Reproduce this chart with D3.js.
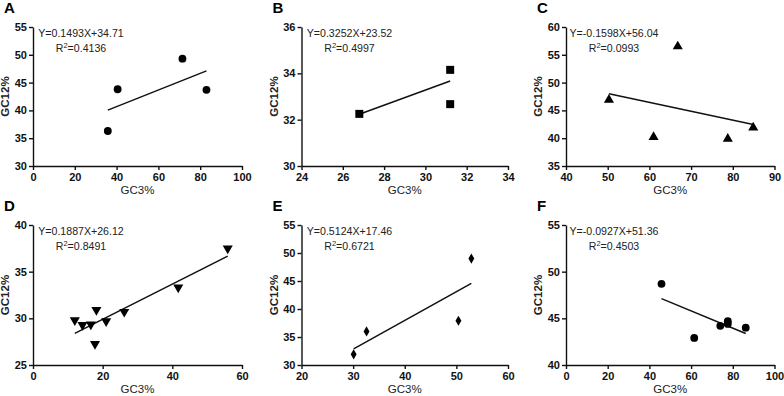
<!doctype html>
<html>
<head>
<meta charset="utf-8">
<script src="https://cdn.jsdelivr.net/npm/d3@7"></script>
<style>
  body { margin: 0; background: #fff; }
  svg { display: block; font-family: "Liberation Sans", Arial, sans-serif; }
  .domain, .tick line { stroke: #111; stroke-width: 1.4px; }
</style>
</head>
<body>
<svg width="784" height="396"></svg>
<script>
// panel labels
var letters = ["A", "B", "C", "D", "E", "F"];

// GC3% (x) and GC12% (y) per panel
var gc3A = [35.8, 40.5, 71.5, 83.0];
var gc12A = [36.3, 43.8, 49.3, 43.7];
var gc3B = [26.8, 31.2, 31.2];
var gc12B = [32.25, 34.15, 32.67];
var gc3C = [50.3, 66.8, 61.0, 78.8, 84.9];
var gc12C = [46.9, 56.5, 40.2, 39.9, 41.9];
var gc3D = [12.0, 14.2, 16.6, 18.2, 17.8, 21.0, 26.2, 41.7, 55.9];
var gc12D = [29.8, 29.3, 29.35, 30.9, 27.25, 29.7, 30.7, 33.3, 37.5];
var gc3E = [30.1, 32.6, 50.4, 52.9];
var gc12E = [31.9, 36.0, 37.9, 49.0];
var gc3F = [45.8, 61.5, 74.0, 77.6, 77.6, 86.2];
var gc12F = [48.7, 42.9, 44.2, 44.7, 44.4, 44.0];

// regression fits as printed
var slopes = [0.1493, 0.3252, -0.1598, 0.1887, 0.5124, -0.0927];
var intercepts = [34.71, 23.52, 56.04, 26.12, 17.46, 51.36];
var equations = ["Y=0.1493X+34.71", "Y=0.3252X+23.52", "Y=-0.1598X+56.04",
                 "Y=0.1887X+26.12", "Y=0.5124X+17.46", "Y=-0.0927X+51.36"];
var r2 = ["0.4136", "0.4997", "0.0993", "0.8491", "0.6721", "0.4503"];

// axis ranges and ticks
var xTicks = [[0, 20, 40, 60, 80, 100], [24, 26, 28, 30, 32, 34], [40, 50, 60, 70, 80, 90],
              [0, 20, 40, 60], [20, 30, 40, 50, 60], [0, 20, 40, 60, 80, 100]];
var yTicks = [[30, 35, 40, 45, 50, 55], [30, 32, 34, 36], [35, 40, 45, 50, 55, 60],
              [25, 30, 35, 40], [30, 35, 40, 45, 50, 55], [40, 45, 50, 55]];

var xs = [gc3A, gc3B, gc3C, gc3D, gc3E, gc3F];
var ys = [gc12A, gc12B, gc12C, gc12D, gc12E, gc12F];
var shapes = [d3.symbolCircle, d3.symbolSquare, d3.symbolTriangle, d3.symbolTriangle, d3.symbolDiamond, d3.symbolCircle];
var sizes = [48, 64, 44, 44, 30, 48];

var colLeft = [33, 301.5, 566], colRight = [242, 508, 774.5];
var rowTop = [27, 225], rowBottom = [166, 365];

var svg = d3.select("svg");

function styleTicks(sel) {
  sel.selectAll(".tick text")
    .style("font-size", "11px").style("font-weight", "bold").attr("fill", "#111");
}

letters.forEach(function(letter, i) {
  var c = i % 3, r = Math.floor(i / 3);
  var left = colLeft[c], right = colRight[c], top = rowTop[r], bottom = rowBottom[r];
  var xt = xTicks[i], yt = yTicks[i];
  var x = d3.scaleLinear().domain([xt[0], xt[xt.length - 1]]).range([left, right]);
  var y = d3.scaleLinear().domain([yt[0], yt[yt.length - 1]]).range([bottom, top]);
  var g = svg.append("g");

  g.append("g").attr("transform", "translate(0," + bottom + ")")
    .call(d3.axisBottom(x).tickValues(xt).tickFormat(d3.format("d")).tickSize(4).tickPadding(3).tickSizeOuter(0))
    .call(styleTicks);
  g.append("g").attr("transform", "translate(" + left + ",0)")
    .call(d3.axisLeft(y).tickValues(yt).tickFormat(d3.format("d")).tickSize(4).tickPadding(2).tickSizeOuter(0))
    .call(styleTicks);

  g.append("text").attr("x", left - 29).attr("y", r * 198 + 13)
    .style("font-size", "15px").style("font-weight", "bold").text(letter);

  g.append("text").attr("x", (left + right) / 2).attr("y", bottom + 28)
    .attr("text-anchor", "middle").style("font-size", "11.5px").attr("fill", "#222").text("GC3%");
  g.append("text").attr("transform", "translate(" + (left - 24) + "," + ((top + bottom) / 2) + ") rotate(-90)")
    .attr("text-anchor", "middle").style("font-size", "11.5px").style("font-weight", "bold")
    .attr("fill", "#222").text("GC12%");

  var eq = g.append("text").attr("text-anchor", "middle").style("font-size", "10.6px").attr("fill", "#222");
  eq.append("tspan").attr("x", left + 48).attr("y", top + 10).text(equations[i]);
  var t2 = eq.append("tspan").attr("x", left + 48).attr("y", top + 25);
  t2.append("tspan").text("R");
  t2.append("tspan").attr("dy", -4).style("font-size", "7.5px").text("2");
  t2.append("tspan").attr("dy", 4).text("=" + r2[i]);

  var ext = d3.extent(xs[i]);
  g.append("line")
    .attr("x1", x(ext[0])).attr("y1", y(slopes[i] * ext[0] + intercepts[i]))
    .attr("x2", x(ext[1])).attr("y2", y(slopes[i] * ext[1] + intercepts[i]))
    .attr("stroke", "#111").attr("stroke-width", 1.5);

  g.selectAll("path.pt").data(xs[i]).enter().append("path")
    .attr("class", "pt")
    .attr("d", d3.symbol().type(shapes[i]).size(sizes[i]))
    .attr("transform", function(d, k) {
      return "translate(" + x(d) + "," + y(ys[i][k]) + ")" + (i === 3 ? " rotate(180)" : "");
    })
    .attr("fill", "#000");
});
</script>
</body>
</html>
